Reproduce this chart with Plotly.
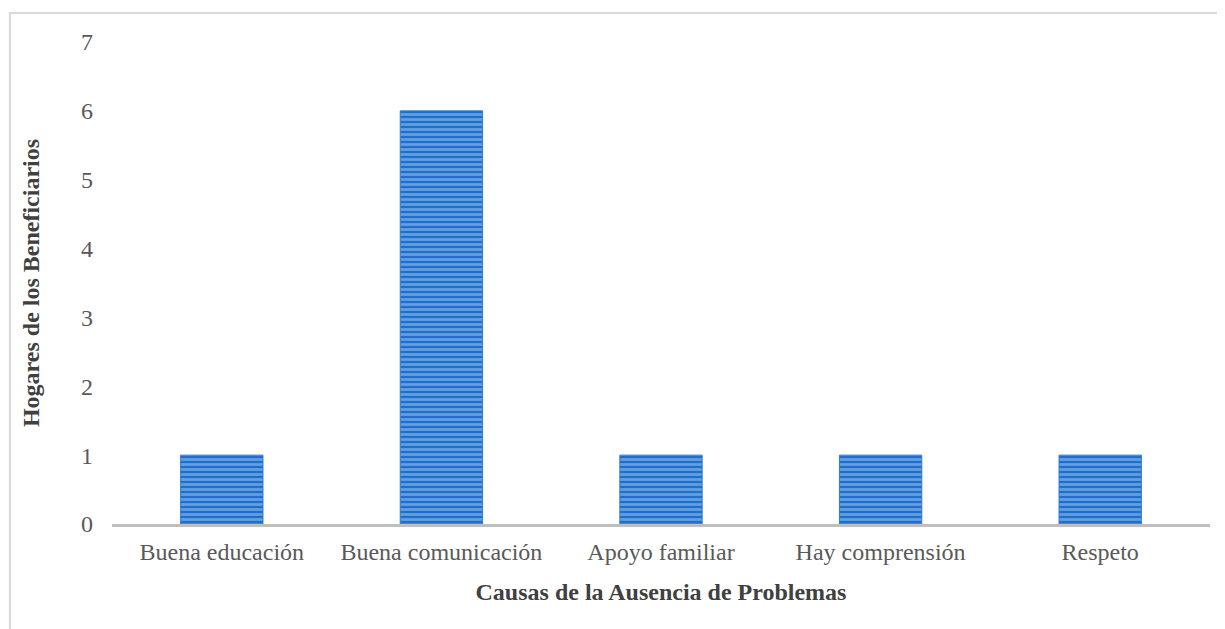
import plotly.graph_objects as go

categories = ["Buena educación", "Buena comunicación", "Apoyo familiar", "Hay comprensión", "Respeto"]
values = [1, 6, 1, 1, 1]
y_ticks = [0, 1, 2, 3, 4, 5, 6, 7]

FONT = "Liberation Serif, Times New Roman, serif"

fig = go.Figure()

fig.add_trace(go.Bar(
    x=categories,
    y=values,
    width=0.375,
    marker=dict(
        color="#1f6fcc",
        line=dict(color="#2a7ad6", width=1),
        pattern=dict(shape="-", bgcolor="#1f6fcc", fgcolor="#a9cdf2",
                     size=5, solidity=0.55, fillmode="overlay"),
    ),
    showlegend=False,
))

fig.update_layout(
    width=1225,
    height=629,
    margin=dict(l=104, r=23, t=34, b=113),
    plot_bgcolor="white",
    paper_bgcolor="white",
    font=dict(family=FONT, color="#595959", size=24),
    xaxis=dict(
        showline=True,
        linecolor="#bfbfbf",
        linewidth=2.5,
        showgrid=False,
        ticks="",
        ticklabelstandoff=4,
        tickfont=dict(size=24, color="#595959"),
        title=dict(text="<b>Causas de la Ausencia de Problemas</b>",
                   font=dict(size=24, color="#404040"), standoff=20),
    ),
    yaxis=dict(
        range=[0, 7],
        tickvals=y_ticks,
        showgrid=False,
        zeroline=False,
        showline=False,
        ticks="",
        ticklabelstandoff=18,
        tickfont=dict(size=24, color="#595959"),
        title=dict(text="<b>Hogares de los Beneficiarios</b>",
                   font=dict(size=24, color="#404040"), standoff=34),
    ),
    shapes=[dict(
        type="rect", xref="paper", yref="paper",
        x0=-0.093, y0=-0.3, x1=1.03, y1=1.06,
        line=dict(color="#d9d9d9", width=2),
        fillcolor="rgba(0,0,0,0)",
    )],
)

fig.write_html("out.html")
